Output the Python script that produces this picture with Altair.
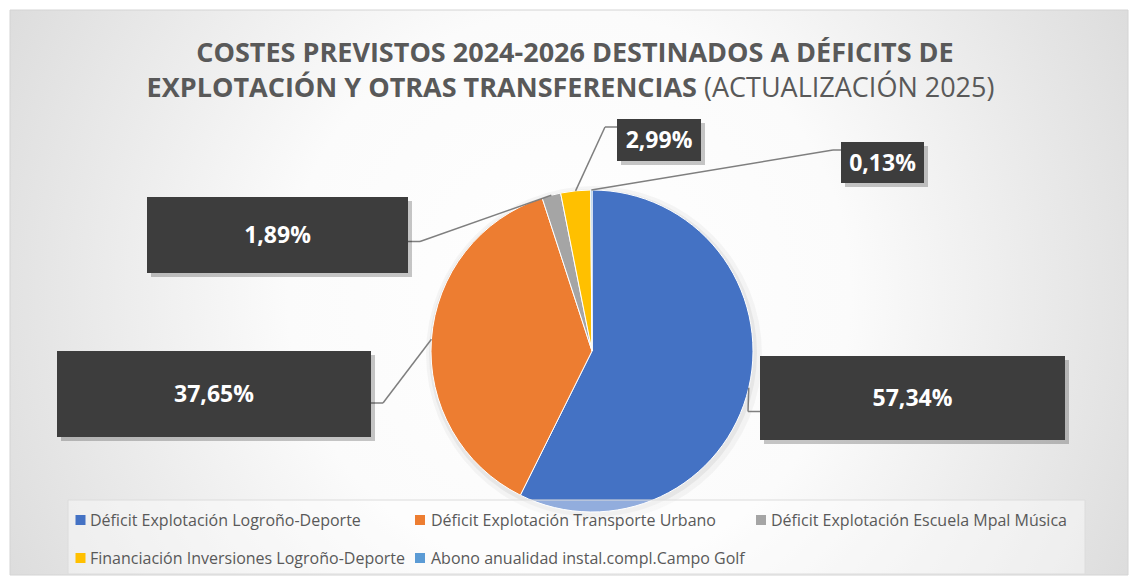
import math
import altair as alt
import pandas as pd

# ---------------- data ----------------
categories = [
    "Déficit Explotación Logroño-Deporte",
    "Déficit Explotación Transporte Urbano",
    "Déficit Explotación Escuela Mpal Música",
    "Financiación Inversiones Logroño-Deporte",
    "Abono anualidad instal.compl.Campo Golf",
]
values = [57.34, 37.65, 1.89, 2.99, 0.13]
value_labels = ["57,34%", "37,65%", "1,89%", "2,99%", "0,13%"]
colors = ["#4472C4", "#ED7D31", "#A5A5A5", "#FFC000", "#5B9BD5"]

title_line1 = "COSTES PREVISTOS 2024-2026 DESTINADOS A DÉFICITS DE"
title_line2_bold = "EXPLOTACIÓN Y OTRAS TRANSFERENCIAS"
title_line2_reg = "(ACTUALIZACIÓN 2025)"

# ---------------- layout (pixels, chart coordinates) ----------------
W, H = 1121, 569
CX, CY, R = 584, 343, 161

box_x1 = [752, 49, 139, 609, 833]
box_x2 = [1057, 363, 400, 693, 916]
box_y1 = [348, 343, 189, 111, 134]
box_y2 = [432, 429, 265, 153, 175]
elbow_x = [740, 375, 412, 597, 825]
elbow_y = [403.5, 395, 233.5, 119, 142]
edge_x = [752, 363, 400, 609, 833]

leg_sq_x = [72.5, 412, 753, 72.5, 412]
leg_text_x = [82, 423, 763, 82, 423]
leg_y = [512, 512, 512, 550, 550]

FONT = "Open Sans"
TXT = "#595959"

# ---------------- tables ----------------
pie_df = pd.DataFrame({
    "category": categories,
    "value": values,
    "order": list(range(len(values))),
})

lab_df = pd.DataFrame({
    "category": categories,
    "value": values,
    "order": list(range(len(values))),
    "label": value_labels,
    "x1": box_x1, "x2": box_x2, "y1": box_y1, "y2": box_y2,
    "ex": elbow_x, "ey": elbow_y, "edge": edge_x,
})

leg_df = pd.DataFrame({
    "category": categories,
    "sx": leg_sq_x, "tx": leg_text_x, "y": leg_y,
})

one = pd.DataFrame({"k": [0]})

color_scale = alt.Scale(domain=categories, range=colors)

# ---------------- layers ----------------
bg = alt.Chart(one).mark_rect(
    fill=alt.Gradient(
        gradient="radial",
        stops=[alt.GradientStop(color="#ffffff", offset=0),
               alt.GradientStop(color="#fbfbfb", offset=0.35),
               alt.GradientStop(color="#cdcdcd", offset=1)],
        x1=0.5, y1=0.5, r1=0, x2=0.5, y2=0.5, r2=0.72,
    ),
    stroke="#d4d4d4", strokeWidth=1,
).encode(x=alt.value(2), x2=alt.value(W - 1), y=alt.value(2), y2=alt.value(H - 2))

shadow1 = alt.Chart(one).mark_arc(
    radius=R + 7, theta=0, theta2=2 * math.pi, color="#000000", opacity=0.035
).encode(x=alt.value(CX + 2), y=alt.value(CY + 3))
shadow2 = alt.Chart(one).mark_arc(
    radius=R + 3, theta=0, theta2=2 * math.pi, color="#000000", opacity=0.05
).encode(x=alt.value(CX + 1), y=alt.value(CY + 2))

pie = alt.Chart(pie_df).mark_arc(radius=R, stroke="white", strokeWidth=1).encode(
    theta=alt.Theta("value:Q", stack=True),
    order=alt.Order("order:Q"),
    color=alt.Color("category:N", scale=color_scale, legend=None),
    x=alt.value(CX),
    y=alt.value(CY),
)

legend_box = alt.Chart(one).mark_rect(
    fill="#ffffff", fillOpacity=0.42, stroke="#dcdcdc", strokeWidth=1
).encode(x=alt.value(60), x2=alt.value(1077), y=alt.value(492), y2=alt.value(566))

lab_base = alt.Chart(lab_df).transform_joinaggregate(
    total="sum(value)"
).transform_window(
    cum="sum(value)", sort=[alt.SortField("order")]
).transform_calculate(
    ang=f"2*PI*(datum.cum - datum.value/2)/datum.total",
).transform_calculate(
    px=f"{CX} + {R}*sin(datum.ang)",
    py=f"{CY} - {R}*cos(datum.ang)",
    cx="(datum.x1 + datum.x2)/2",
    cy="(datum.y1 + datum.y2)/2",
    sx1="datum.x1 + 4", sx2="datum.x2 + 4",
    sy1="datum.y1 + 4", sy2="datum.y2 + 4",
)

lead1 = lab_base.mark_rule(color="#7f7f7f", strokeWidth=1.5).encode(
    x=alt.X("px:Q", scale=None), y=alt.Y("py:Q", scale=None),
    x2="ex:Q", y2="ey:Q",
)
lead2 = lab_base.mark_rule(color="#7f7f7f", strokeWidth=1.5).encode(
    x=alt.X("ex:Q", scale=None), y=alt.Y("ey:Q", scale=None),
    x2="edge:Q", y2="ey:Q",
)

box_shadow = lab_base.mark_rect(color="#000000", opacity=0.22).encode(
    x=alt.X("sx1:Q", scale=None), x2="sx2:Q",
    y=alt.Y("sy1:Q", scale=None), y2="sy2:Q",
)
boxes = lab_base.mark_rect(color="#3d3d3d").encode(
    x=alt.X("x1:Q", scale=None), x2="x2:Q",
    y=alt.Y("y1:Q", scale=None), y2="y2:Q",
)
box_text = lab_base.mark_text(
    font=FONT, fontSize=23, fontWeight="bold", color="white",
    align="center", baseline="middle", dy=1,
).encode(
    x=alt.X("cx:Q", scale=None), y=alt.Y("cy:Q", scale=None), text="label:N"
)

leg_sq = alt.Chart(leg_df).mark_square(size=100, opacity=1).encode(
    x=alt.X("sx:Q", scale=None), y=alt.Y("y:Q", scale=None),
    color=alt.Color("category:N", scale=color_scale, legend=None),
)
leg_txt = alt.Chart(leg_df).mark_text(
    font=FONT, fontSize=16, color=TXT, align="left", baseline="middle", dy=1,
).encode(
    x=alt.X("tx:Q", scale=None), y=alt.Y("y:Q", scale=None), text="category:N"
)

t1 = alt.Chart(one).mark_text(
    text=title_line1, font=FONT, fontSize=27, fontWeight="bold", color=TXT,
    align="center", baseline="alphabetic",
).encode(x=alt.value(567), y=alt.value(54))
t2a = alt.Chart(one).mark_text(
    text=title_line2_bold, font=FONT, fontSize=27, fontWeight="bold", color=TXT,
    align="right", baseline="alphabetic",
).encode(x=alt.value(689), y=alt.value(89))
t2b = alt.Chart(one).mark_text(
    text=title_line2_reg, font=FONT, fontSize=27, fontWeight="normal", color=TXT,
    align="left", baseline="alphabetic",
).encode(x=alt.value(696), y=alt.value(89))

chart = alt.layer(
    bg, shadow1, shadow2, pie, legend_box, lead1, lead2,
    box_shadow, boxes, box_text, leg_sq, leg_txt, t1, t2a, t2b,
).properties(
    width=W, height=H, padding=0, background="white"
).configure_view(stroke=None)

chart.save("out.html", embed_options={"renderer": "svg", "actions": False})
